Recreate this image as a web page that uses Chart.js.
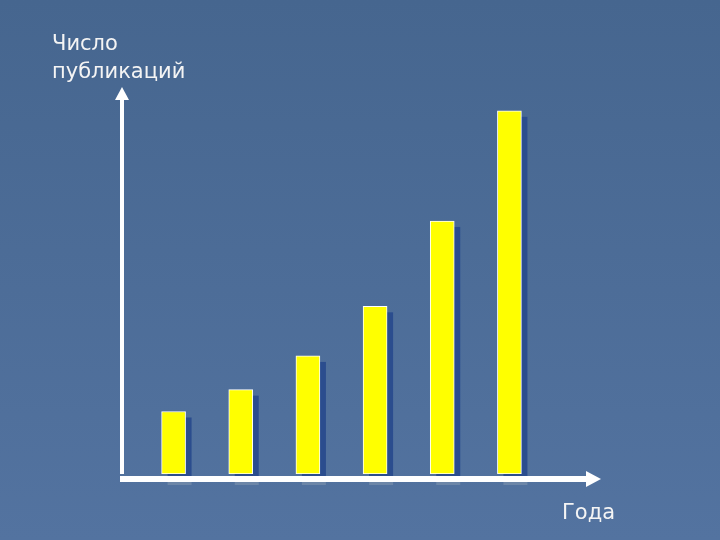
<!DOCTYPE html>
<html>
<head>
<meta charset="utf-8">
<script src="https://cdn.jsdelivr.net/npm/chart.js@4/dist/chart.umd.min.js"></script>
<style>
    html, body { margin: 0; padding: 0; background: #4b6c98; }
    #wrap { width: 720px; height: 540px; }
</style>
</head>
<body>
<div id="wrap"><canvas id="chart" width="720" height="540"></canvas></div>
<script>
// Publications per year (no axis scale shown)
var years = ['1', '2', '3', '4', '5', '6'];
var publications = [63, 85, 119, 169, 255, 366];
var yMax = 386;

var yTitleLines = ['Число', 'публикаций'];
var xTitle = 'Года';

// Background, shadows, white axes with arrows, and titles
var decorPlugin = {
    id: 'decor',
    beforeDraw: function(chart) {
        var ctx = chart.ctx;
        var g = ctx.createLinearGradient(0, 0, 0, chart.height);
        g.addColorStop(0, '#46668f');
        g.addColorStop(1, '#5373a0');
        ctx.save();
        ctx.fillStyle = g;
        ctx.fillRect(0, 0, chart.width, chart.height);
        ctx.restore();
    },
    beforeDatasetsDraw: function(chart) {
        var ctx = chart.ctx;
        var meta = chart.getDatasetMeta(0);
        ctx.save();
        for (var i = 0; i < meta.data.length; i++) {
            var bar = meta.data[i];
            var p = bar.getProps(['x', 'y', 'base', 'width'], true);
            var left = p.x - p.width / 2 + 6;
            ctx.fillStyle = '#2b4d8e';
            ctx.fillRect(left, p.y + 6, p.width, p.base - p.y + 2);
            ctx.fillStyle = '#6c86a8';
            ctx.fillRect(left, p.base + 8, p.width, 3);
        }
        ctx.restore();
    },
    afterDatasetsDraw: function(chart) {
        var ctx = chart.ctx;
        var a = chart.chartArea;
        var ax = a.left - 18;
        var baseY = a.bottom + 5;
        var topY = a.top - 4;
        var rightX = a.right + 58;
        ctx.save();
        ctx.strokeStyle = '#ffffff';
        ctx.fillStyle = '#ffffff';
        ctx.lineWidth = 4;
        // y axis
        ctx.beginPath();
        ctx.moveTo(ax, a.bottom);
        ctx.lineTo(ax, topY + 8);
        ctx.stroke();
        ctx.beginPath();
        ctx.moveTo(ax, topY);
        ctx.lineTo(ax - 7, topY + 13);
        ctx.lineTo(ax + 7, topY + 13);
        ctx.closePath();
        ctx.fill();
        // x axis
        ctx.lineWidth = 6;
        ctx.beginPath();
        ctx.moveTo(ax - 2, baseY);
        ctx.lineTo(rightX - 8, baseY);
        ctx.stroke();
        ctx.beginPath();
        ctx.moveTo(rightX, baseY);
        ctx.lineTo(rightX - 15, baseY - 8);
        ctx.lineTo(rightX - 15, baseY + 8);
        ctx.closePath();
        ctx.fill();
        // titles
        ctx.fillStyle = '#f4f4f4';
        ctx.font = '21px "DejaVu Sans", sans-serif';
        ctx.textBaseline = 'alphabetic';
        ctx.fillText(yTitleLines[0], 52, 50);
        ctx.fillText(yTitleLines[1], 52, 78);
        ctx.fillText(xTitle, 562, 519);
        ctx.restore();
    }
};

new Chart(document.getElementById('chart'), {
    type: 'bar',
    data: {
        labels: years,
        datasets: [{
            data: publications,
            backgroundColor: '#ffff00',
            borderColor: '#ffffff',
            borderWidth: 1,
            borderSkipped: false,
            barThickness: 24
        }]
    },
    options: {
        responsive: false,
        animation: false,
        layout: { padding: { left: 140, right: 177, top: 91, bottom: 66 } },
        plugins: { legend: { display: false }, tooltip: { enabled: false } },
        scales: {
            x: { display: false, offset: true },
            y: { display: false, min: 0, max: yMax }
        }
    },
    plugins: [decorPlugin]
});
</script>
</body>
</html>
